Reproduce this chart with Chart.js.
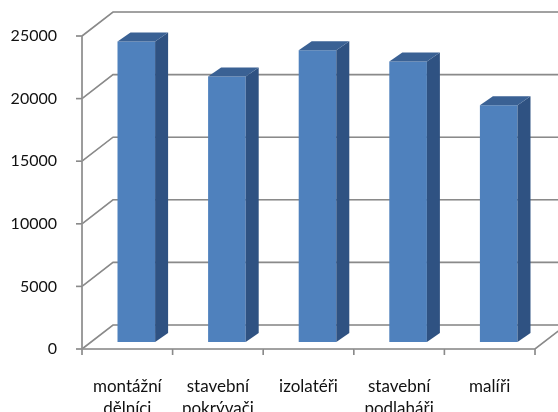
<!DOCTYPE html>
<html>
<head>
<meta charset="utf-8">
<script src="https://cdn.jsdelivr.net/npm/chart.js@4/dist/chart.umd.min.js"></script>
<style>
  html, body { margin: 0; padding: 0; background: #fff; }
  #wrap { width: 558px; height: 412px; }
</style>
</head>
<body>
<div id="wrap"><canvas id="chart"></canvas></div>
<script>
// data
const categories = [
  ['montážní', 'dělníci'],
  ['stavební', 'pokrývači'],
  ['izolatéři'],
  ['stavební', 'podlaháři'],
  ['malíři']
];
const values = [24000, 21200, 23300, 22400, 18900];
const yTicks = [0, 5000, 10000, 15000, 20000, 25000];

// 3d look: wall depth, bar plane offset and bar thickness
const WALL = { dx: 31, dy: -24 };
const BAR_OFF = { dx: 9, dy: -7 };
const BAR_DEPTH = { dx: 13, dy: -9 };

const gridLine = (ctx, pts) => {
  ctx.beginPath();
  ctx.moveTo(pts[0][0], pts[0][1]);
  for (let i = 1; i < pts.length; i++) ctx.lineTo(pts[i][0], pts[i][1]);
  ctx.strokeStyle = '#d4d4d4';
  ctx.lineWidth = 1;
  ctx.save();
  ctx.translate(0, 1.5);
  ctx.stroke();
  ctx.restore();
  ctx.strokeStyle = '#8a8a8a';
  ctx.lineWidth = 1.6;
  ctx.stroke();
};

const box3d = {
  id: 'box3d',
  beforeDatasetsDraw(chart) {
    const { ctx, chartArea: a, scales: { x, y } } = chart;
    const W = chart.width + 40;
    ctx.save();
    ctx.lineCap = 'butt';
    // left wall diagonals + back wall lines
    yTicks.forEach(v => {
      const py = y.getPixelForValue(v);
      gridLine(ctx, [[a.left, py], [a.left + WALL.dx, py + WALL.dy], [W, py + WALL.dy]]);
    });
    // floor
    gridLine(ctx, [[a.left, a.bottom], [a.right, a.bottom], [a.right + WALL.dx, a.bottom + WALL.dy]]);
    // front vertical axis
    gridLine(ctx, [[a.left, a.top], [a.left, a.bottom]]);
    // y tick marks
    yTicks.forEach(v => {
      const py = y.getPixelForValue(v);
      gridLine(ctx, [[a.left - 6, py], [a.left, py]]);
    });
    // x tick marks at category boundaries
    const step = (a.right - a.left) / categories.length;
    for (let i = 0; i <= categories.length; i++) {
      const px = a.left + i * step;
      gridLine(ctx, [[px, a.bottom], [px, a.bottom + 6]]);
    }
    ctx.restore();
    // bars sit a bit deeper than the front plane
    ctx.save();
    ctx.translate(BAR_OFF.dx, BAR_OFF.dy);
  },
  afterDatasetsDraw(chart) {
    const { ctx } = chart;
    chart.getDatasetMeta(0).data.forEach(bar => {
      const l = bar.x - bar.width / 2, r = bar.x + bar.width / 2;
      const t = bar.y, b = bar.base;
      const { dx, dy } = BAR_DEPTH;
      // side
      ctx.beginPath();
      ctx.moveTo(r, b);
      ctx.lineTo(r + dx, b + dy);
      ctx.lineTo(r + dx, t + dy);
      ctx.lineTo(r, t);
      ctx.closePath();
      ctx.fillStyle = '#2f5282';
      ctx.fill();
      // top
      ctx.beginPath();
      ctx.moveTo(l, t);
      ctx.lineTo(l + dx, t + dy);
      ctx.lineTo(r + dx, t + dy);
      ctx.lineTo(r, t);
      ctx.closePath();
      ctx.fillStyle = '#3a6194';
      ctx.fill();
    });
    ctx.restore();
  }
};

const family = 'Lato, "Open Sans", sans-serif';

new Chart(document.getElementById('chart'), {
  type: 'bar',
  data: {
    labels: categories,
    datasets: [{
      data: values,
      backgroundColor: '#4f81bd',
      borderWidth: 0,
      barPercentage: 0.415,
      categoryPercentage: 1,
      clip: false
    }]
  },
  options: {
    responsive: true,
    maintainAspectRatio: false,
    animation: false,
    events: [],
    layout: { padding: { top: 36, right: 23, left: 0, bottom: 0 } },
    plugins: { legend: { display: false }, tooltip: { enabled: false } },
    scales: {
      x: {
        grid: { display: false },
        border: { display: false },
        ticks: { color: '#111', font: { family, size: 17, lineHeight: 1.3 }, padding: 18, maxRotation: 0, autoSkip: false },
        afterFit: s => { s.height = 63; }
      },
      y: {
        min: 0,
        max: 25000,
        afterBuildTicks: s => { s.ticks = yTicks.map(v => ({ value: v })); },
        grid: { display: false },
        border: { display: false },
        ticks: { color: '#111', font: { family, size: 16 }, padding: 17, callback: v => String(v) },
        afterFit: s => { s.width = 82; }
      }
    }
  },
  plugins: [box3d]
});
</script>
</body>
</html>
